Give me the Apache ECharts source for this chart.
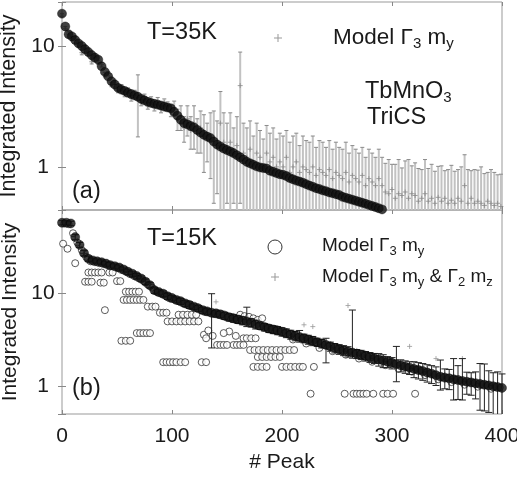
<!DOCTYPE html>
<html><head><meta charset="utf-8">
<script src="https://cdn.jsdelivr.net/npm/echarts@6/dist/echarts.min.js"></script>
<style>html,body{margin:0;padding:0;background:#fff}#c{width:517px;height:480px}</style>
</head><body><div id="c"></div>
<script>
// ---------------- data ----------------
const xTicks = [0, 100, 200, 300, 400];

// Panel (a) T=35K : measured intensities, peaks 0,3,6,...
const topStep = 3;
const topData = [18.5,14.5,12.5,12.0,11.2,10.5,10.0,9.4,8.9,8.4,
 8.0,7.7,6.8,6.1,5.6,5.1,4.8,4.5,4.35,4.25,
 4.1,4.0,3.9,3.8,3.65,3.55,3.45,3.38,3.32,3.27,
 3.22,3.15,3.1,3.05,2.85,2.65,2.45,2.3,2.25,2.18,
 2.12,2.02,1.92,1.84,1.78,1.73,1.62,1.53,1.47,1.42,
 1.38,1.34,1.30,1.25,1.2,1.15,1.1,1.07,1.04,1.01,
 0.99,0.98,0.97,0.93,0.91,0.89,0.87,0.86,0.84,0.81,
 0.79,0.77,0.756,0.74,0.72,0.70,0.685,0.667,0.655,0.64,
 0.63,0.615,0.606,0.595,0.585,0.565,0.555,0.545,0.535,0.525,
 0.515,0.505,0.495,0.485,0.475,0.465,0.455,0.445];
// Model Γ3 my (grey crosses) and their error, peaks 0,3,...,399
const topModel = [18.0,14.0,12.8,11.5,11.6,10.2,8.8,9.8,8.6,7.4,
 8.3,7.3,7.0,5.8,5.9,4.8,5.0,4.3,4.6,4.0,
 4.3,3.7,4.1,3.77,3.4,3.8,3.2,3.6,3.1,3.5,
 3.0,3.4,3.2,2.9,3.1,2.5,2.6,2.1,2.5,2.0,
 2.3,1.9,2.1,1.8,1.7,1.8,1.7,1.5,2.3,1.6,
 1.4,1.6,1.3,1.5,4.7,1.3,1.2,1.4,1.1,1.3,
 1.2,1.0,1.3,1.1,1.2,1.0,1.1,1.0,1.2,0.9,
 1.0,1.1,0.9,1.0,0.95,0.9,1.0,0.85,0.95,0.9,
 0.85,0.95,0.8,0.9,0.85,0.8,0.9,0.75,0.85,0.8,
 0.75,0.85,0.7,0.8,0.75,0.7,0.8,0.7,
 0.62,0.6,0.65,0.55,0.6,0.58,0.62,0.55,0.6,0.58,
 0.52,0.55,0.6,0.52,0.55,0.5,0.56,0.52,0.55,0.5,
 0.53,0.5,0.55,0.52,0.7,0.5,0.55,0.5,0.52,0.5,
 0.48,0.52,0.5,0.48,0.5,0.47];
const topModelErr = [0.5,0.5,0.4,0.4,0.4,0.4,0.35,0.35,0.3,0.3,
 0.3,0.3,0.3,0.25,0.25,0.2,0.2,0.2,0.2,0.2,
 0.2,0.2,0.2,2.0,0.2,0.2,0.2,0.2,0.2,0.25,
 0.2,0.25,0.25,0.3,0.4,0.5,0.6,0.5,0.7,0.6,
 0.9,0.6,0.8,0.9,0.6,1.0,1.2,0.9,1.9,1.2,
 0.9,1.2,0.8,1.1,4.2,1.0,0.9,1.0,0.7,1.0,
 0.8,0.7,0.9,0.8,0.9,0.7,0.8,0.8,0.8,0.7,
 0.8,0.8,0.6,0.8,0.7,0.7,0.8,0.6,0.7,0.7,
 0.6,0.7,0.6,0.7,0.6,0.6,0.7,0.55,0.65,0.6,
 0.55,0.6,0.5,0.6,0.55,0.5,0.6,0.5,
 0.45,0.55,0.4,0.5,0.55,0.4,0.5,0.6,0.42,0.5,
 0.45,0.4,0.55,0.45,0.5,0.42,0.45,0.5,0.38,0.45,
 0.5,0.42,0.4,0.48,0.56,0.45,0.38,0.45,0.42,0.5,
 0.4,0.38,0.45,0.42,0.36,0.4];

// Panel (b) T=15K : measured intensities with errors, peaks 0,4,...,400
const botStep = 4;
const botData = [57,57,56,40,33,27,23.5,22.5,22,21.5,
 20.8,20,19.5,18.9,18,17,16.2,15.3,14.4,13.3,
 12.2,10.8,10.3,9.9,9.3,8.9,8.5,8.2,7.8,7.5,
 7.2,6.9,6.6,6.4,6.2,6.1,5.95,5.75,5.55,5.4,
 5.25,5.1,5.0,4.85,4.65,4.5,4.35,4.2,4.1,4.0,
 3.88,3.75,3.62,3.5,3.4,3.3,3.2,3.1,3.0,2.9,
 2.8,2.7,2.6,2.52,2.45,2.38,2.32,2.25,2.2,2.13,
 2.07,2.02,1.96,1.9,1.85,1.8,1.75,1.69,1.64,1.6,
 1.55,1.51,1.47,1.42,1.38,1.33,1.28,1.25,1.23,1.2,
 1.18,1.15,1.13,1.11,1.09,1.07,1.05,1.03,1.01,0.99,
 0.97];
const botErrUp = [3,3,3,2.5,2,1.8,1.5,1.4,1.4,1.4,
 1.3,1.3,1.2,1.2,1.1,1.1,1,1,0.9,0.9,
 0.8,0.8,0.7,0.7,0.7,0.6,0.6,0.6,0.6,0.6,
 0.5,0.5,0.5,0.5,3.7,0.5,0.5,0.5,0.5,0.5,
 0.5,0.5,2.1,0.5,0.5,0.4,0.4,0.4,0.4,0.4,
 0.4,0.4,0.4,0.4,0.6,0.35,0.35,0.35,0.3,0.3,
 0.5,0.3,0.3,0.3,0.3,0.3,4.3,0.25,0.25,0.25,
 0.25,0.25,0.3,0.3,0.25,0.25,0.95,0.25,0.25,0.25,
 0.3,0.3,0.3,0.3,0.3,0.3,0.65,0.3,0.3,0.8,
 0.5,0.85,0.3,0.3,0.35,0.7,0.7,0.45,0.4,0.45,
 0.4];
const botErrDn = [3,3,3,2.5,2,1.8,1.5,1.4,1.4,1.4,
 1.3,1.3,1.2,1.2,1.1,1.1,1,1,0.9,0.9,
 0.8,0.8,0.7,0.7,0.7,0.6,0.6,0.6,0.6,0.6,
 0.5,0.5,0.5,0.5,3.6,0.5,0.5,0.5,0.5,0.5,
 0.5,0.5,0.6,0.5,0.5,0.4,0.4,0.4,0.4,0.4,
 0.4,0.4,0.4,0.4,0.4,0.35,0.35,0.35,0.3,0.3,
 1.0,0.3,0.3,0.3,0.3,0.3,0.3,0.25,0.25,0.25,
 0.25,0.25,0.3,0.3,0.25,0.25,0.62,0.25,0.25,0.25,
 0.3,0.3,0.3,0.3,0.3,0.3,0.36,0.3,0.3,0.48,
 0.45,0.43,0.3,0.3,0.35,0.51,0.5,0.5,0.55,0.6,
 0.55];
// Model Γ3 my (open circles): values near the data, peaks 2,6,...,398
const botModelStart = 2;
const botModelBand = [56,55,44,35,29,24.5,22,21.5,21,20.5,
 19.8,19.2,18.6,17.8,17,16,15.2,14.4,13.6,12.4,
 11.5,10.4,9.9,9.4,8.8,8.6,8.2,7.8,7.5,7.2,
 6.8,6.6,6.3,6.2,6.0,5.9,5.7,5.5,5.35,5.2,
 5.9,5.7,5.6,5.4,5.2,5.4,4.3,4.1,4.0,3.9,
 3.75,3.6,3.2,3.4,3.3,2.9,3.1,3.0,2.6,2.8,
 2.72,2.4,2.55,2.45,2.2,2.33,2.27,2.0,2.15,2.1,
 1.85,1.98,1.93,1.7,1.82,1.77,1.55,1.66,1.62,1.45,
 1.53,1.49,1.33,1.4,1.35,1.2,1.27,1.24,1.12,1.19,
 1.16,1.05,1.12,1.1,1.0,1.06,1.04,0.95,1.0,0.98];
// Model Γ3 my (open circles) lying away from the data
const botModelOutPeaks = [1,5,12,21,24,27,24,27,30,33,36,35,38,43,46,50,53,39,
 58,61,64,67,70,56,59,62,65,68,71,74,78,82,85,89,92,95,
 96,100,104,108,112,116,120,124,106,110,114,118,122,
 68,71,74,77,80,54,58,62,
 92,95,98,101,104,108,112,127,131,
 129,131,133,137,152,158,147,
 141,144,147,150,156,159,162,165,165,168,172,176,
 171,175,179,183,187,191,195,199,203,207,211,
 178,182,186,190,194,198,
 174,178,182,186,200,204,208,212,216,219,229,
 226,257,265,268,271,274,277,283,292,296,301,321];
const botModelOutVals = [34,30,21,13.3,13.3,13.3,16.7,16.7,16.7,16.7,16.7,13,13,16.7,16.7,13.5,13.5,6.6,
 10.4,10.4,10.4,10.4,10.4,8.5,8.5,8.5,8.5,8.5,8.5,8.5,7.2,7.2,7.2,6.2,6.2,6.2,
 5.0,5.0,5.0,5.0,5.0,5.0,5.0,5.0,5.9,5.9,5.9,5.9,5.9,
 3.75,3.75,3.75,3.75,3.75,3.1,3.1,3.1,
 1.83,1.83,1.83,1.83,1.83,1.83,1.83,1.83,1.83,
 3.6,3.3,4.0,3.5,3.9,3.5,3.75,
 2.8,2.8,2.8,2.8,2.8,2.8,2.8,2.8,3.3,3.3,3.3,3.3,
 2.47,2.47,2.47,2.47,2.47,2.47,2.47,2.47,2.47,2.47,2.47,
 2.08,2.08,2.08,2.08,2.08,2.08,
 1.63,1.63,1.63,1.63,1.63,1.63,1.63,1.63,1.63,1.63,1.63,
 0.84,0.84,0.84,0.84,0.84,0.84,0.84,0.84,0.84,0.84,0.84,0.84];
// Model Γ3 my & Γ2 mz (grey crosses), peaks 4,12,...,396
const botModel2Start = 4, botModel2Step = 8;
const botModel2 = [58,42,28,23,22.5,21,19.5,18,16,14,
 11.5,10.5,9.5,8.8,8.0,7.4,6.8,8.1,6.2,5.8,
 5.5,5.2,4.8,4.5,4.3,4.0,3.8,4.6,4.4,3.1,
 2.9,2.7,7.4,2.45,2.3,2.15,2.05,1.95,1.8,2.7,
 1.65,1.55,2.0,1.35,1.3,2.0,1.2,1.15,1.1,1.05];

// ---------------- chart ----------------
const FONT = '"Liberation Sans", Arial, sans-serif';
const TXT = '#1a1a1a';
const topYMin = 0.44, topYMax = 23.1, botYMin = 0.51, botYMax = 78;

function decadeLabel(v) {
  const l = Math.log10(v);
  return Math.abs(l - Math.round(l)) < 1e-6 ? String(Math.round(Math.pow(10, Math.round(l)))) : '';
}
function errBars(xi, yi, data, color, capColor, lw, cap, yMin, z) {
  return {
    type: 'custom', xAxisIndex: xi, yAxisIndex: yi, z: z, silent: true,
    encode: { x: 0, y: [1, 2] }, data: data,
    renderItem: function (params, api) {
      const x = api.value(0), lo = api.value(1), hi = api.value(2);
      const p1 = api.coord([x, hi]), p2 = api.coord([x, lo]);
      const ch = [
        { type: 'line', shape: { x1: p1[0], y1: p1[1], x2: p2[0], y2: p2[1] }, style: { stroke: color, lineWidth: lw } },
        { type: 'line', shape: { x1: p1[0] - cap, y1: p1[1], x2: p1[0] + cap, y2: p1[1] }, style: { stroke: capColor, lineWidth: 1 } }
      ];
      if (lo > yMin * 1.001) ch.push({ type: 'line', shape: { x1: p2[0] - cap, y1: p2[1], x2: p2[0] + cap, y2: p2[1] }, style: { stroke: capColor, lineWidth: 1 } });
      return { type: 'group', children: ch };
    }
  };
}
const PLUS = 'path://M0,5L10,5M5,0L5,10';

const xBase = { type: 'value', min: xTicks[0], max: xTicks[xTicks.length - 1], interval: 100,
  splitLine: { show: false }, axisLine: { show: false },
  axisTick: { show: true, inside: true, length: 4, lineStyle: { color: '#888' } } };
const yBase = { type: 'log', logBase: 10, splitLine: { show: false }, axisLine: { show: false },
  minorTick: { show: false },
  axisTick: { show: true, inside: true, length: 4, lineStyle: { color: '#888' } } };
const yLab = { formatter: decadeLabel, fontSize: 21, fontFamily: FONT, color: TXT, margin: 19, align: 'center' };
const yName = { fontSize: 21, fontFamily: FONT, color: TXT };

const topErrData = topModel.map((v, i) => [i * topStep, Math.max(v - topModelErr[i], topYMin), v + topModelErr[i]]);
const botErrData = botData.map((v, i) => [i * botStep, Math.max(v - botErrDn[i], botYMin), v + botErrUp[i]]);

const rich = {
  s: { fontSize: 15, fontFamily: FONT, fill: TXT, padding: [12, 0, 0, 0] },
  t: { fontSize: 13, fontFamily: FONT, fill: TXT, padding: [10, 0, 0, 0] }
};
function txt(x, y, text, size) {
  return { type: 'text', x: x, y: y, z: 100,
    style: { text: text, fontSize: size || 23.5, fontFamily: FONT, fill: TXT, verticalAlign: 'middle', rich: rich } };
}
function plus(cx, cy, h) {
  return { type: 'group', z: 100, children: [
    { type: 'line', shape: { x1: cx - h, y1: cy, x2: cx + h, y2: cy }, style: { stroke: '#999', lineWidth: 1 } },
    { type: 'line', shape: { x1: cx, y1: cy - h, x2: cx, y2: cy + h }, style: { stroke: '#999', lineWidth: 1 } }
  ] };
}

const option = {
  animation: false,
  backgroundColor: '#fff',
  grid: [
    { left: 62, top: 2, width: 440, height: 208, show: true, borderColor: '#999', borderWidth: 1, containLabel: false, outerBoundsMode: 'none' },
    { left: 62, top: 210, width: 440, height: 204, show: true, borderColor: '#999', borderWidth: 1, containLabel: false, outerBoundsMode: 'none' }
  ],
  xAxis: [
    Object.assign({}, xBase, { gridIndex: 0, axisLabel: { show: false } }),
    Object.assign({}, xBase, { gridIndex: 1,
      axisLabel: { show: true, fontSize: 21, fontFamily: FONT, color: TXT, margin: 12 },
      name: '# Peak', nameLocation: 'middle', nameGap: 38, nameTextStyle: yName }),
    Object.assign({}, xBase, { gridIndex: 0, position: 'top', axisLabel: { show: false } }),
    Object.assign({}, xBase, { gridIndex: 1, position: 'top', axisLabel: { show: false } })
  ],
  yAxis: [
    Object.assign({}, yBase, { gridIndex: 0, min: topYMin, max: topYMax, axisLabel: yLab,
      name: 'Integrated Intensity', nameLocation: 'middle', nameGap: 28, nameTextStyle: Object.assign({}, yName, { fontSize: 21.5 }) }),
    Object.assign({}, yBase, { gridIndex: 1, min: botYMin, max: botYMax, axisLabel: yLab,
      name: 'Integrated Intensity', nameLocation: 'middle', nameGap: 28, nameTextStyle: yName }),
    Object.assign({}, yBase, { gridIndex: 0, position: 'right', min: topYMin, max: topYMax, axisLabel: { show: false } }),
    Object.assign({}, yBase, { gridIndex: 1, position: 'right', min: botYMin, max: botYMax, axisLabel: { show: false } })
  ],
  series: [
    errBars(0, 0, topErrData, '#c2c2c2', '#8a8a8a', 2, 2, topYMin, 1),
    { type: 'scatter', xAxisIndex: 0, yAxisIndex: 0, z: 2, symbol: PLUS, symbolSize: 5,
      itemStyle: { color: 'none', borderColor: '#8a8a8a', borderWidth: 1 },
      data: topModel.map((v, i) => [i * topStep, v]) },
    { type: 'scatter', xAxisIndex: 0, yAxisIndex: 0, z: 3, symbol: 'circle', symbolSize: 9,
      itemStyle: { color: '#111', borderColor: '#000', borderWidth: 0.5 },
      data: topData.map((v, i) => [i * topStep, v]) },

    { type: 'scatter', xAxisIndex: 1, yAxisIndex: 1, z: 2, symbol: PLUS, symbolSize: 5,
      itemStyle: { color: 'none', borderColor: '#999', borderWidth: 1 },
      data: botModel2.map((v, i) => [botModel2Start + i * botModel2Step, v]) },
    { type: 'scatter', xAxisIndex: 1, yAxisIndex: 1, z: 3, symbol: 'circle', symbolSize: 7,
      itemStyle: { color: '#fff', borderColor: '#333', borderWidth: 1 },
      data: botModelBand.map((v, i) => [botModelStart + i * botStep, v]) },
    { type: 'scatter', xAxisIndex: 1, yAxisIndex: 1, z: 3, symbol: 'circle', symbolSize: 7,
      itemStyle: { color: '#fff', borderColor: '#333', borderWidth: 1 },
      data: botModelOutPeaks.map((p, i) => [p, botModelOutVals[i]]) },
    errBars(1, 1, botErrData, '#222', '#222', 1, 3.5, botYMin, 4),
    { type: 'scatter', xAxisIndex: 1, yAxisIndex: 1, z: 5, symbol: 'circle', symbolSize: 9,
      itemStyle: { color: '#111', borderColor: '#000', borderWidth: 0.5 },
      data: botData.map((v, i) => [i * botStep, v]) }
  ],
  graphic: [
    txt(147, 33, 'T=35K'),
    plus(278, 38, 4),
    txt(333, 38, 'Model Γ{s|3} m{s|y}', 22.5),
    txt(365, 92, 'TbMnO{s|3}'),
    txt(367, 118, 'TriCS'),
    txt(72, 192, '(a)'),
    txt(147, 239, 'T=15K'),
    { type: 'circle', z: 100, shape: { cx: 275, cy: 247, r: 7 }, style: { fill: 'none', stroke: '#333', lineWidth: 1 } },
    txt(322, 246, 'Model Γ{t|3} m{t|y}', 19),
    plus(275, 277, 4),
    txt(322, 277, 'Model Γ{t|3} m{t|y} & Γ{t|2} m{t|z}', 19),
    txt(72, 389, '(b)')
  ]
};
const chart = echarts.init(document.getElementById('c'), null, { renderer: 'canvas' });
chart.setOption(option);
</script>
</body></html>
